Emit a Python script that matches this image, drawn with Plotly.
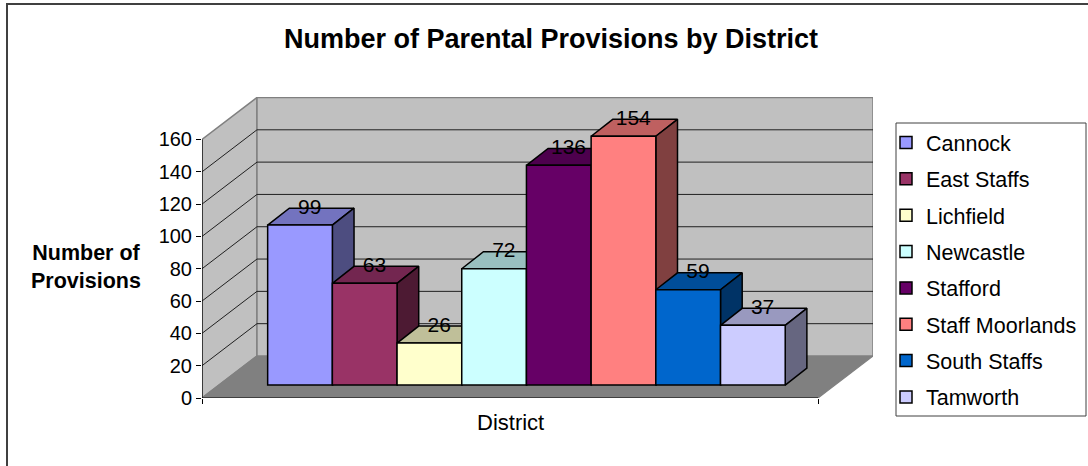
import plotly.graph_objects as go

# --- data ---
districts = ["Cannock", "East Staffs", "Lichfield", "Newcastle", "Stafford",
             "Staff Moorlands", "South Staffs", "Tamworth"]
provisions = [99, 63, 26, 72, 136, 154, 59, 37]
tick_values = [0, 20, 40, 60, 80, 100, 120, 140, 160]

# --- styles ---
front_colors = ["#9999FF", "#993366", "#FFFFCC", "#CCFFFF", "#660066", "#FF8080", "#0066CC", "#CCCCFF"]
top_colors = ["#7373BF", "#732650", "#BFBF99", "#99BFBF", "#4D004D", "#BF6060", "#004D99", "#9999BF"]
side_colors = ["#4D4D80", "#4D1A33", "#808066", "#668080", "#330033", "#804040", "#003366", "#666680"]

W, H = 1088, 466
L, R, T, B = 202, 873, 97, 398  # plot-area frame in page pixels

# projection of the pseudo-3D box, in axis units
X_LEFT, X_RIGHT = -1.515, 8.857
Y_MAX = 186.3
Y_TOP = 160
WALL_DX, WALL_DY = 0.85, 26
BAR_DX, BAR_DY = 0.335, 10.5
BAR_LIFT = 8
X_FRONT_RIGHT = X_RIGHT - WALL_DX

fig = go.Figure()


def poly(xs, ys, fill, line="rgba(0,0,0,0)", width=0, z=0):
    fig.add_trace(go.Scatter(x=xs, y=ys, mode="lines", fill="toself", fillcolor=fill,
                             line=dict(color=line, width=width), showlegend=False,
                             hoverinfo="skip", cliponaxis=False, zorder=z))


def seg(xs, ys, color, width, z=0):
    fig.add_trace(go.Scatter(x=xs, y=ys, mode="lines", line=dict(color=color, width=width),
                             showlegend=False, hoverinfo="skip", cliponaxis=False, zorder=z))


xb = X_LEFT + WALL_DX
# floor, walls
poly([X_LEFT, xb, X_RIGHT, X_FRONT_RIGHT, X_LEFT], [0, WALL_DY, WALL_DY, 0, 0], "#808080")
poly([X_LEFT, xb, xb, X_LEFT, X_LEFT], [0, WALL_DY, WALL_DY + Y_TOP, Y_TOP, 0], "#C0C0C0", "#808080", 1.5)
poly([xb, X_RIGHT, X_RIGHT, xb, xb], [WALL_DY, WALL_DY, WALL_DY + Y_TOP, WALL_DY + Y_TOP, WALL_DY],
     "#C0C0C0", "#808080", 1.5)
seg([X_FRONT_RIGHT, X_RIGHT], [0, WALL_DY], "#808080", 1.2)
seg([X_LEFT, xb], [0, WALL_DY], "#808080", 1.2)
# gridlines
for t in tick_values[1:-1]:
    seg([X_LEFT, xb, X_RIGHT], [t, t + WALL_DY, t + WALL_DY], "#202020", 1)
# axis lines
seg([X_LEFT, X_LEFT], [0, Y_TOP], "#000000", 1.2, z=1)
seg([X_LEFT, X_FRONT_RIGHT], [0, 0], "#000000", 1.2, z=1)

# bars, painted left to right so each one hides what stands behind it
for i, (name, v) in enumerate(zip(districts, provisions)):
    z = 2 + 2 * i
    x0, x1 = i - 0.5, i + 0.5
    y0, y1 = BAR_LIFT, BAR_LIFT + v
    poly([x0, x0 + BAR_DX, x1 + BAR_DX, x1, x0], [y1, y1 + BAR_DY, y1 + BAR_DY, y1, y1],
         top_colors[i], "#000000", 1.5, z)
    poly([x1, x1 + BAR_DX, x1 + BAR_DX, x1, x1], [y0, y0 + BAR_DY, y1 + BAR_DY, y1, y0],
         side_colors[i], "#000000", 1.5, z)
    fig.add_trace(go.Bar(x=[i], y=[v], base=BAR_LIFT, width=1, name=name, legendgroup=name,
                         marker=dict(color=front_colors[i], line=dict(color="#000000", width=1.5)),
                         zorder=z + 1))

# value labels
fig.add_trace(go.Scatter(
    x=[i + BAR_DX * 0.45 for i in range(len(provisions))],
    y=[BAR_LIFT + v + BAR_DY / 2 - 1.5 for v in provisions],
    text=[str(v) for v in provisions], mode="text", textposition="top center",
    textfont=dict(family="Liberation Sans", size=21, color="#000000"),
    showlegend=False, hoverinfo="skip", cliponaxis=False, zorder=100))


def px(x):
    return (x - L) / (R - L)


def py(y):
    return (B - y) / (B - T)


fig.update_layout(
    width=W, height=H, margin=dict(l=L, r=W - R, t=T, b=H - B, autoexpand=False),
    paper_bgcolor="#FFFFFF", plot_bgcolor="rgba(0,0,0,0)",
    font=dict(family="Liberation Sans", size=20, color="#000000"),
    barmode="overlay", showlegend=True,
    title=dict(text="<b>Number of Parental Provisions by District</b>", x=551 / W, xref="container",
               xanchor="center", y=1 - 39 / H, yref="container", yanchor="middle",
               font=dict(size=27, family="Liberation Sans", color="#000000")),
    xaxis=dict(range=[X_LEFT, X_RIGHT], tickvals=[X_LEFT, X_FRONT_RIGHT], ticktext=["", ""],
               ticks="outside", ticklen=5, tickcolor="#000000", tickwidth=1,
               showgrid=False, zeroline=False, showline=False),
    yaxis=dict(range=[0, Y_MAX], tickvals=tick_values, ticks="outside", ticklen=5,
               tickcolor="#000000", tickwidth=1, tickfont=dict(size=20),
               showgrid=False, zeroline=False, showline=False),
    legend=dict(x=px(886), xanchor="left", y=py(122), yanchor="top", borderwidth=0,
                bgcolor="rgba(0,0,0,0)", tracegroupgap=5.4, font=dict(size=21.5),
                traceorder="grouped", itemclick=False, itemdoubleclick=False),
    shapes=[
        dict(type="rect", xref="paper", yref="paper", x0=px(7), x1=px(W + 20), y0=py(4), y1=py(H + 20),
             line=dict(color="#404040", width=2), fillcolor="rgba(0,0,0,0)", layer="below"),
        dict(type="rect", xref="paper", yref="paper", x0=px(896), x1=px(1086), y0=py(123), y1=py(416),
             line=dict(color="#404040", width=1), fillcolor="#FFFFFF", layer="below"),
    ],
    annotations=[
        dict(text="District", xref="paper", yref="paper", x=px(510), y=py(422), showarrow=False,
             xanchor="center", yanchor="middle", font=dict(size=22)),
        dict(text="<b>Number of<br>Provisions</b>", xref="paper", yref="paper", x=px(86), y=py(267),
             showarrow=False, xanchor="center", yanchor="middle", align="center", font=dict(size=21.5)),
    ],
)

fig.write_html("out.html", config={"displayModeBar": False},
               post_script="document.body.style.margin='0';")
